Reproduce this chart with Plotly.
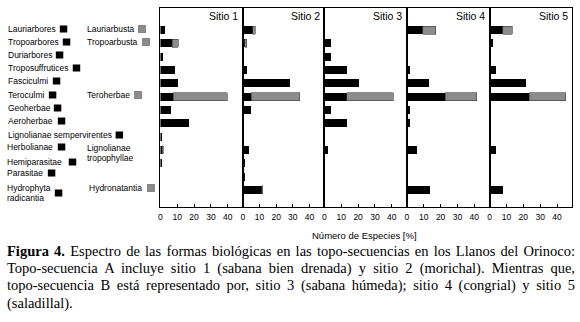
import plotly.graph_objects as go

W, H = 580, 322

categories = ["Lauriarbores", "Tropoarbores", "Duriarbores", "Troposuffrutices",
              "Fasciculmi", "Teroculmi", "Geoherbae", "Aeroherbae",
              "Lignolianae sempervirentes", "Herbolianae", "Hemiparasitae",
              "Parasitae", "Hydrophyta radicantia"]
sub_categories = ["Lauriarbusta", "Tropoarbusta", "", "", "", "Teroherbae", "", "", "",
                  "Lignolianae tropophyllae", "", "", "Hydronatantia"]

sites = ["Sitio 1", "Sitio 2", "Sitio 3", "Sitio 4", "Sitio 5"]

sitio1_main = [2.5, 7.0, 1.8, 8.9, 10.3, 7.7, 6.1, 17.0, 1.0, 1.2, 1.0, 0, 0]
sitio1_sub = [0, 3.5, 0, 0, 0, 32.0, 0, 0, 0, 0.6, 0, 0, 0]
sitio2_main = [5.9, 1.0, 0, 2.4, 28.0, 4.9, 4.9, 0, 0, 3.5, 1.2, 1.2, 11.2]
sitio2_sub = [1.6, 1.4, 0, 0, 0, 29.4, 0, 0, 0, 0, 0, 0, 0.8]
sitio3_main = [0, 4.0, 4.0, 13.2, 20.5, 13.2, 4.0, 13.2, 0, 2.0, 0, 0, 0]
sitio3_sub = [0, 0, 0, 0, 0, 27.6, 0, 0, 0, 0, 0, 0, 0]
sitio4_main = [9.3, 0, 0, 1.8, 13.2, 22.7, 1.8, 1.8, 0, 5.7, 0, 0, 13.6]
sitio4_sub = [7.7, 0, 0, 0, 0, 18.7, 0, 0, 0, 0, 0, 0, 0]
sitio5_main = [7.7, 1.8, 0, 3.7, 21.5, 23.5, 0, 0, 0, 3.7, 0, 0, 7.7]
sitio5_sub = [5.9, 0, 0, 0, 0, 21.7, 0, 0, 0, 0, 0, 0, 0]

main_vals = [sitio1_main, sitio2_main, sitio3_main, sitio4_main, sitio5_main]
sub_vals = [sitio1_sub, sitio2_sub, sitio3_sub, sitio4_sub, sitio5_sub]

x_ticks = [0, 10, 20, 30, 40]
x_title = "Número de Especies [%]"

caption_lines = [
    "<b>Figura 4.</b> Espectro de las formas biológicas en las topo-secuencias en los Llanos del Orinoco:",
    "Topo-secuencia A incluye sitio 1 (sabana bien drenada) y sitio 2 (morichal). Mientras que,",
    "topo-secuencia B está representado por, sitio 3 (sabana húmeda); sitio 4 (congrial) y sitio 5",
    "(saladillal).",
]


def px(x):
    return x / W


def py(y):
    return 1 - y / H


SANS = "Liberation Sans, Arial, sans-serif"
SERIF = "Liberation Serif, Times New Roman, serif"

panel_edges = [159, 241.7, 323.6, 406.3, 489.2, 572.2]
top_px, bot_px = 8, 206.5

fig = go.Figure()


def nz(v):
    return [None if a == 0 else a for a in v]


for i in range(5):
    ax = "" if i == 0 else str(i + 1)
    fig.add_trace(go.Bar(
        y=categories, x=nz(main_vals[i]), orientation="h",
        marker=dict(color="black", line=dict(width=0)),
        width=0.6, name=sites[i] + " formas", showlegend=False,
        xaxis="x" + ax, yaxis="y" + ax))
    fig.add_trace(go.Bar(
        y=categories, x=nz(sub_vals[i]), orientation="h",
        marker=dict(color="#8c8c8c", line=dict(width=0.6, color="#3a3a3a")),
        width=0.6, name=sites[i] + " subformas", showlegend=False,
        xaxis="x" + ax, yaxis="y" + ax))

layout = dict(
    width=W, height=H, autosize=False,
    margin=dict(l=0, r=0, t=0, b=0),
    paper_bgcolor="white", plot_bgcolor="white",
    barmode="stack", bargap=0.4,
    font=dict(family=SANS, color="black"),
)

ydom = [py(bot_px), py(top_px)]
for i in range(5):
    ax = "" if i == 0 else str(i + 1)
    layout["xaxis" + ax] = dict(
        domain=[px(panel_edges[i]), px(panel_edges[i + 1])],
        anchor="y" + ax, range=[0, 49],
        tickvals=x_ticks, ticktext=[str(t) for t in x_ticks],
        ticks="inside", ticklen=3, tickwidth=1, tickcolor="black",
        showline=True, linecolor="black", linewidth=1, mirror=True,
        showgrid=False, zeroline=False,
        tickfont=dict(size=8.5, family=SANS), ticklabelstandoff=2,
        fixedrange=True,
    )
    layout["yaxis" + ax] = dict(
        domain=ydom, anchor="x" + ax,
        type="category", categoryorder="array", categoryarray=categories,
        range=[13.24, -1.65],
        showticklabels=False, ticks="",
        showline=True, linecolor="black", linewidth=1, mirror=True,
        showgrid=False, zeroline=False, fixedrange=True,
    )

annotations = []
shapes = []

# Site titles
for i, s in enumerate(sites):
    annotations.append(dict(
        x=px(panel_edges[i + 1] - 2.5), y=py(15.5), xref="paper", yref="paper",
        text=s, showarrow=False, xanchor="right", yanchor="middle",
        font=dict(size=10.5, family=SANS)))

# Axis title
annotations.append(dict(
    x=px(363.5), y=py(235), xref="paper", yref="paper", text=x_title,
    showarrow=False, xanchor="center", yanchor="middle",
    font=dict(size=9.5, family=SANS)))

left_pos = [
    (4.5, [29], 58), (4.5, [42], 61), (4.5, [55], 54), (4.5, [68], 71), (4.5, [81], 51),
    (4.5, [95], 47), (4.5, [108], 52), (4.5, [121], 56), (4.5, [135], 114),
    (3.5, [147], 56), (3.5, [162], 67), (3.5, [173], 46), (3.5, [188, 198], 53),
]
left_text = ["Lauriarbores", "Tropoarbores", "Duriarbores", "Troposuffrutices",
             "Fasciculmi", "Teroculmi", "Geoherbae", "Aeroherbae",
             "Lignolianae sempervirentes", "Herbolianae", "Hemiparasitae",
             "Parasitae", "Hydrophyta<br>radicantia"]
for (x0, ys, sq), t in zip(left_pos, left_text):
    lines = t.split("<br>")
    for ln, yy in zip(lines, ys):
        annotations.append(dict(
            x=px(x0), y=py(yy), xref="paper", yref="paper", text=ln,
            showarrow=False, xanchor="left", yanchor="middle",
            font=dict(size=8.5, family=SANS)))
    ysq = ys[0] if len(ys) == 1 else 193
    shapes.append(dict(type="rect", xref="paper", yref="paper",
                       x0=px(sq), x1=px(sq + 7.5), y0=py(ysq - 3.5), y1=py(ysq + 3.5),
                       fillcolor="black", line=dict(width=0)))

right_items = [
    ("Lauriarbusta", 83.5, [29], 137),
    ("Tropoarbusta", 83.5, [42], 141),
    ("Teroherbae", 83.5, [95], 133),
    ("Lignolianae<br>tropophyllae", 83.5, [148, 158], None),
    ("Hydronatantia", 85.5, [188], 146),
]
for t, x0, ys, sq in right_items:
    for ln, yy in zip(t.split("<br>"), ys):
        annotations.append(dict(
            x=px(x0), y=py(yy), xref="paper", yref="paper", text=ln,
            showarrow=False, xanchor="left", yanchor="middle",
            font=dict(size=8.5, family=SANS)))
    if sq is not None:
        yc = ys[0]
        shapes.append(dict(type="rect", xref="paper", yref="paper",
                           x0=px(sq), x1=px(sq + 7), y0=py(yc - 3.5), y1=py(yc + 3.5),
                           fillcolor="#8c8c8c", line=dict(width=0.6, color="#555")))

# Caption
cap_start = len(annotations)
cap_y = [250.5, 268, 285.5, 303]
for ln, yy in zip(caption_lines, cap_y):
    annotations.append(dict(
        x=px(3.5), y=py(yy), xref="paper", yref="paper", text=ln,
        showarrow=False, xanchor="left", yanchor="middle", align="left",
        font=dict(size=14.5, family=SERIF)))

layout["annotations"] = annotations
layout["shapes"] = shapes
fig.update_layout(**layout)

justify_idx = [cap_start, cap_start + 1, cap_start + 2]
post = """
document.body.style.margin='0';document.body.style.padding='0';
var gd = document.querySelector('.plotly-graph-div');
function justify(){
  var idx = %s;
  idx.forEach(function(k){
    var t = gd.querySelector('g.annotation[data-index="'+k+'"] text.annotation-text');
    if(!t) return;
    var s = (t.textContent.match(/ /g)||[]).length;
    if(!s) return;
    t.style.wordSpacing = '0px';
    var r = t.getBoundingClientRect();
    var extra = 575 - r.right;
    t.style.wordSpacing = (extra / s) + 'px';
  });
}
justify();
""" % str(justify_idx)

fig.write_html("out.html", config={"displayModeBar": False}, post_script=post)
